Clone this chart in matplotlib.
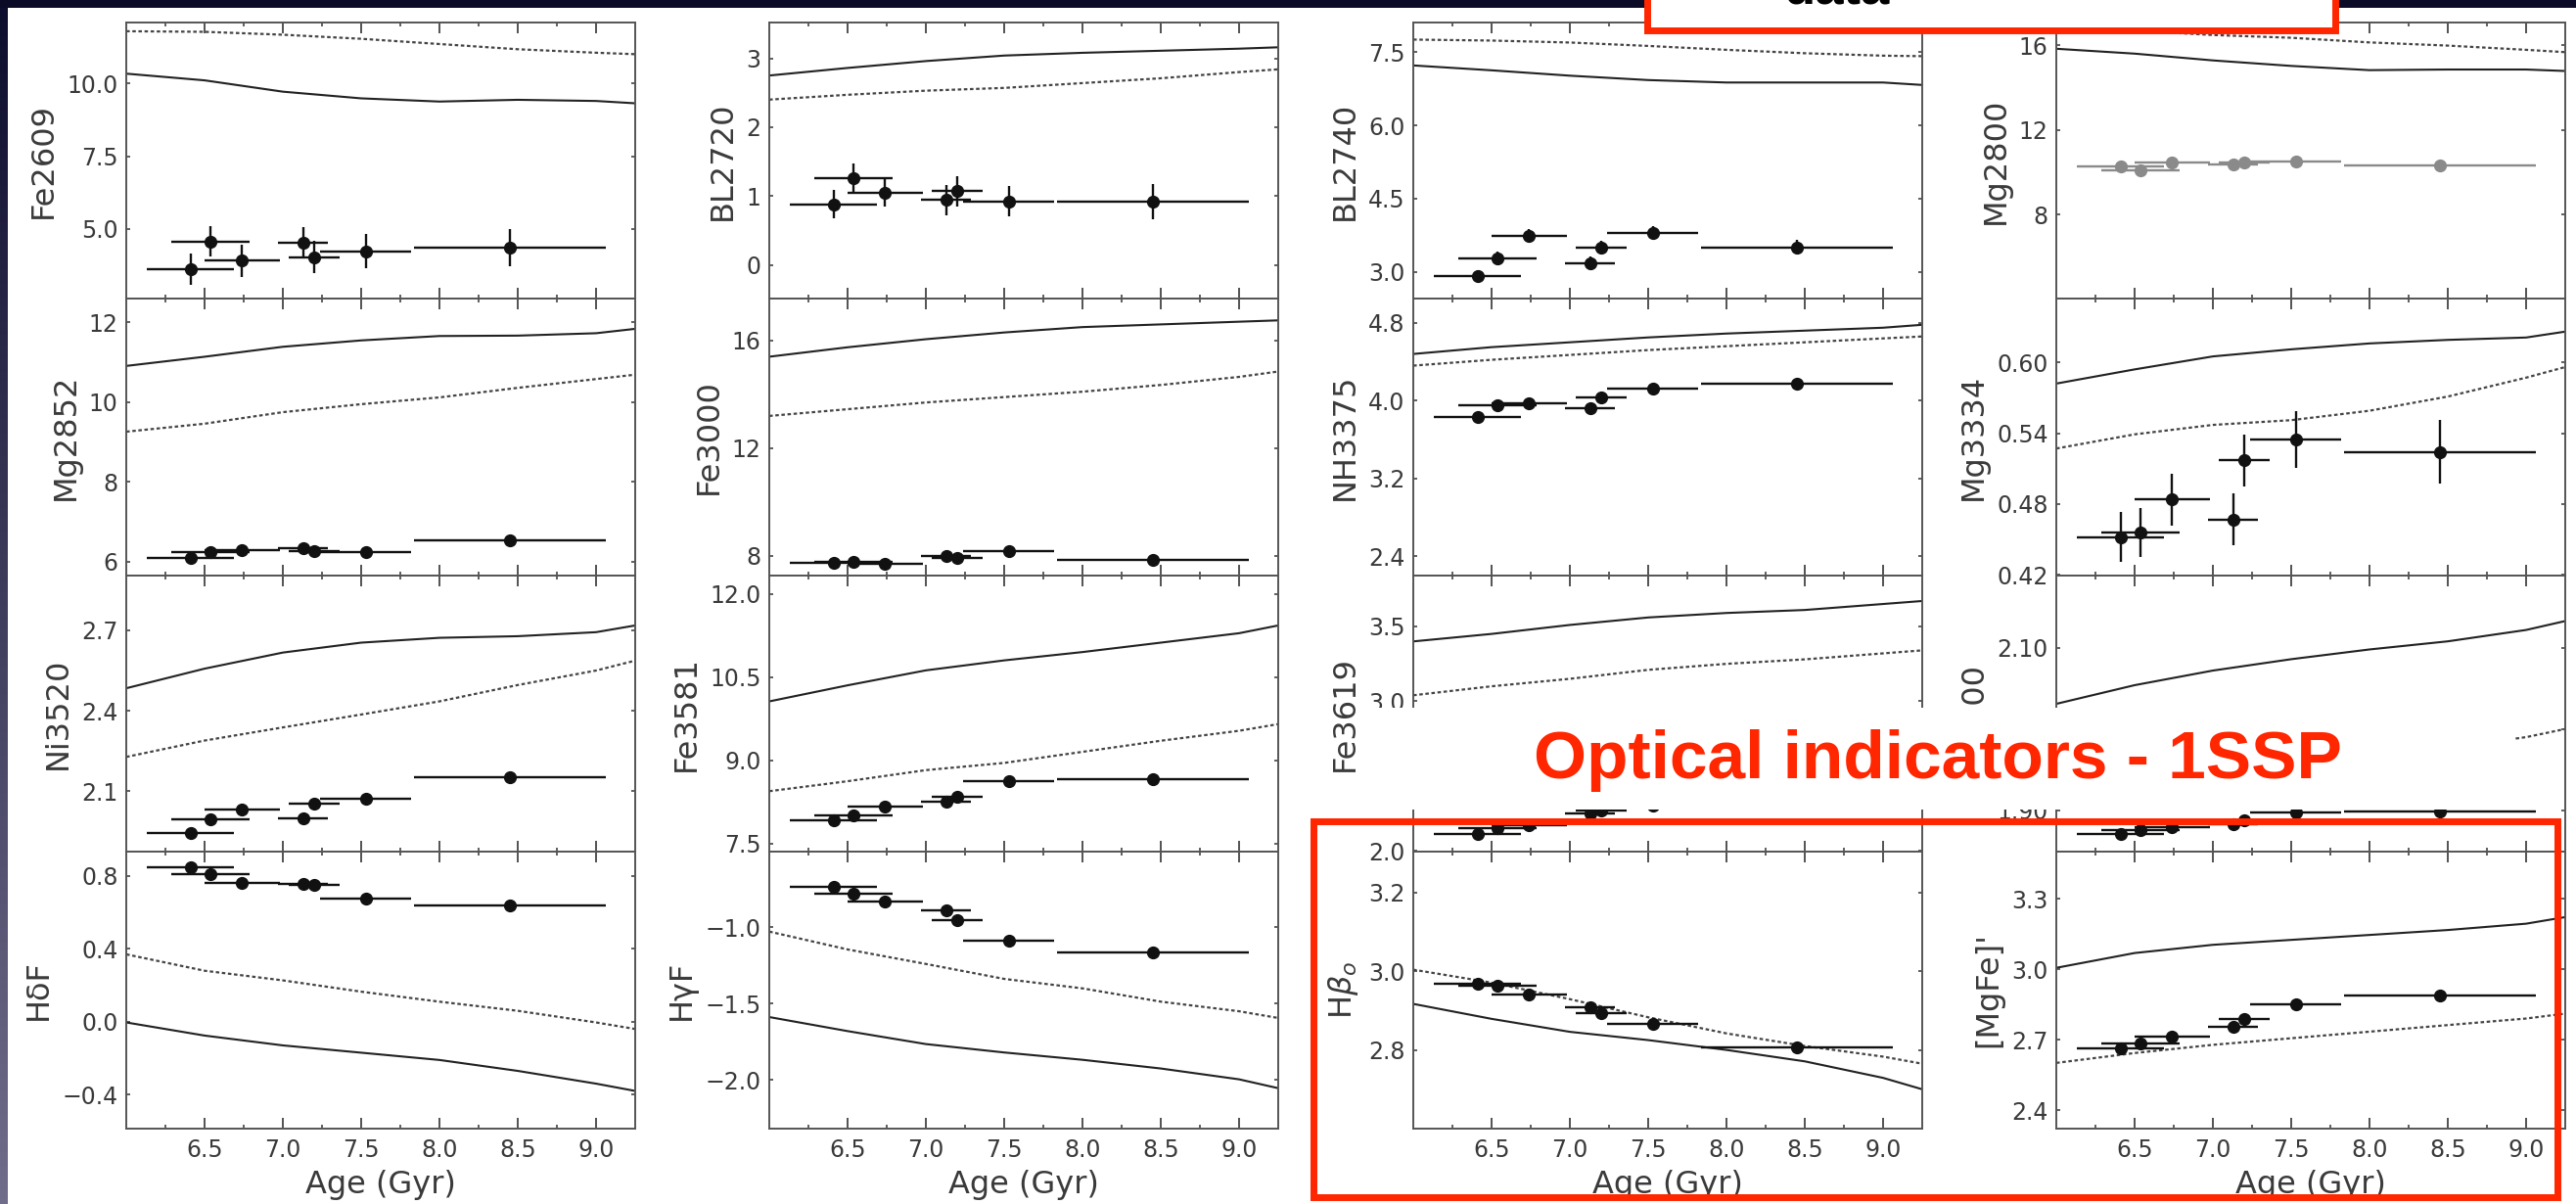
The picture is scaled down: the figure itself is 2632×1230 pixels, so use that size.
import numpy as np
import matplotlib.pyplot as plt
from matplotlib.patches import Rectangle
from matplotlib.ticker import FixedLocator, FuncFormatter

W, H = 2632, 1230

# ---------------- data ----------------
ages = [6.41, 6.54, 6.74, 7.13, 7.20, 7.53, 8.45]
age_err = [0.28, 0.25, 0.24, 0.16, 0.16, 0.29, 0.61]
model_age = [6.0, 6.5, 7.0, 7.5, 8.0, 8.5, 9.0, 9.25]
age_ticks = [6.5, 7.0, 7.5, 8.0, 8.5, 9.0]
age_minor = [6.25, 6.75, 7.25, 7.75, 8.25, 8.75]

fe2609 = [3.61, 4.57, 3.90, 4.52, 4.03, 4.23, 4.35]
fe2609_err = [0.55, 0.53, 0.55, 0.55, 0.55, 0.58, 0.65]
fe2609_solid = [10.34, 10.11, 9.72, 9.49, 9.38, 9.44, 9.40, 9.32]
fe2609_dot = [11.80, 11.78, 11.68, 11.54, 11.36, 11.18, 11.06, 11.01]

bl2720 = [0.88, 1.26, 1.05, 0.94, 1.07, 0.92, 0.92]
bl2720_err = [0.21, 0.21, 0.20, 0.22, 0.22, 0.22, 0.26]
bl2720_solid = [2.75, 2.86, 2.96, 3.04, 3.08, 3.11, 3.14, 3.16]
bl2720_dot = [2.40, 2.47, 2.53, 2.57, 2.64, 2.71, 2.80, 2.84]

bl2740 = [2.91, 3.28, 3.73, 3.18, 3.49, 3.79, 3.50]
bl2740_err = [0.13, 0.14, 0.14, 0.14, 0.14, 0.14, 0.15]
bl2740_solid = [7.23, 7.13, 7.02, 6.93, 6.88, 6.88, 6.88, 6.83]
bl2740_dot = [7.76, 7.74, 7.70, 7.63, 7.55, 7.48, 7.43, 7.42]

mg2800 = [10.27, 10.08, 10.47, 10.36, 10.44, 10.50, 10.34]
mg2800_err = [0.15] * 7
mg2800_solid = [15.83, 15.60, 15.28, 15.02, 14.82, 14.85, 14.85, 14.78]
mg2800_dot = [16.85, 16.68, 16.48, 16.35, 16.13, 15.98, 15.78, 15.67]

mg2852 = [6.08, 6.25, 6.29, 6.33, 6.27, 6.23, 6.54]
mg2852_err = [0.06] * 7
mg2852_solid = [10.91, 11.14, 11.39, 11.55, 11.66, 11.67, 11.73, 11.84]
mg2852_dot = [9.26, 9.46, 9.75, 9.95, 10.12, 10.36, 10.58, 10.69]

fe3000 = [7.75, 7.78, 7.72, 8.00, 7.92, 8.18, 7.85]
fe3000_err = [0.12] * 7
fe3000_solid = [15.40, 15.75, 16.05, 16.30, 16.50, 16.60, 16.70, 16.75]
fe3000_dot = [13.20, 13.45, 13.70, 13.90, 14.10, 14.35, 14.65, 14.85]

nh3375 = [3.83, 3.95, 3.97, 3.92, 4.03, 4.12, 4.17]
nh3375_err = [0.03] * 7
nh3375_solid = [4.48, 4.55, 4.60, 4.65, 4.69, 4.72, 4.75, 4.78]
nh3375_dot = [4.36, 4.42, 4.47, 4.52, 4.56, 4.60, 4.64, 4.66]

mg3334 = [0.452, 0.456, 0.484, 0.467, 0.517, 0.535, 0.524]
mg3334_err = [0.021, 0.021, 0.022, 0.022, 0.022, 0.024, 0.027]
mg3334_solid = [0.582, 0.594, 0.605, 0.611, 0.616, 0.619, 0.621, 0.626]
mg3334_dot = [0.527, 0.539, 0.547, 0.551, 0.559, 0.571, 0.587, 0.596]

ni3520 = [1.944, 1.996, 2.031, 1.999, 2.055, 2.072, 2.152]
ni3520_err = [0.01] * 7
ni3520_solid = [2.484, 2.557, 2.617, 2.654, 2.672, 2.678, 2.693, 2.718]
ni3520_dot = [2.228, 2.289, 2.338, 2.386, 2.435, 2.496, 2.550, 2.587]

fe3581 = [7.91, 8.01, 8.16, 8.25, 8.34, 8.62, 8.66]
fe3581_err = [0.05] * 7
fe3581_solid = [10.06, 10.35, 10.62, 10.80, 10.95, 11.12, 11.29, 11.43]
fe3581_dot = [8.44, 8.62, 8.82, 8.95, 9.15, 9.35, 9.53, 9.65]

fe3619 = [2.11, 2.15, 2.17, 2.25, 2.27, 2.30, 2.33]
fe3619_err = [0.04] * 7
fe3619_solid = [3.40, 3.45, 3.51, 3.56, 3.59, 3.61, 3.65, 3.67]
fe3619_dot = [3.04, 3.10, 3.15, 3.21, 3.25, 3.28, 3.32, 3.34]

d4000 = [1.871, 1.875, 1.879, 1.883, 1.888, 1.897, 1.898]
d4000_err = [0.005] * 7
d4000_solid = [2.031, 2.054, 2.072, 2.086, 2.098, 2.108, 2.122, 2.133]
d4000_dot = [1.920, 1.935, 1.945, 1.955, 1.965, 1.977, 1.990, 2.000]

hdf = [0.85, 0.81, 0.76, 0.755, 0.75, 0.678, 0.64]
hdf_err = [0.015] * 7
hdf_solid = [-0.004, -0.076, -0.13, -0.17, -0.21, -0.27, -0.34, -0.38]
hdf_dot = [0.37, 0.28, 0.227, 0.165, 0.11, 0.06, -0.004, -0.04]

hgf = [-0.733, -0.782, -0.831, -0.889, -0.953, -1.086, -1.167]
hgf_err = [0.02] * 7
hgf_solid = [-1.588, -1.68, -1.765, -1.82, -1.868, -1.925, -1.996, -2.054]
hgf_dot = [-1.028, -1.145, -1.24, -1.338, -1.40, -1.487, -1.55, -1.594]

hbo = [2.967, 2.962, 2.942, 2.908, 2.893, 2.866, 2.806]
hbo_err = [0.006] * 7
hbo_solid = [2.917, 2.879, 2.846, 2.825, 2.800, 2.771, 2.729, 2.700]
hbo_dot = [3.004, 2.971, 2.929, 2.883, 2.842, 2.810, 2.783, 2.765]

mgfe = [2.665, 2.686, 2.714, 2.756, 2.791, 2.851, 2.888]
mgfe_err = [0.008] * 7
mgfe_solid = [3.007, 3.070, 3.105, 3.126, 3.147, 3.168, 3.195, 3.223]
mgfe_dot = [2.602, 2.644, 2.679, 2.707, 2.735, 2.763, 2.791, 2.812]

panels = [
    ('Fe2609', fe2609, fe2609_err, fe2609_solid, fe2609_dot, (2.6, 12.1), [5.0, 7.5, 10.0], '%.1f'),
    ('BL2720', bl2720, bl2720_err, bl2720_solid, bl2720_dot, (-0.49, 3.52), [0, 1, 2, 3], '%d'),
    ('BL2740', bl2740, bl2740_err, bl2740_solid, bl2740_dot, (2.45, 8.11), [3.0, 4.5, 6.0, 7.5], '%.1f'),
    ('Mg2800', mg2800, mg2800_err, mg2800_solid, mg2800_dot, (4.03, 17.07), [8, 12, 16], '%d'),
    ('Mg2852', mg2852, mg2852_err, mg2852_solid, mg2852_dot, (5.65, 12.6), [6, 8, 10, 12], '%d'),
    ('Fe3000', fe3000, fe3000_err, fe3000_solid, fe3000_dot, (7.27, 17.56), [8, 12, 16], '%d'),
    ('NH3375', nh3375, nh3375_err, nh3375_solid, nh3375_dot, (2.2, 5.05), [2.4, 3.2, 4.0, 4.8], '%.1f'),
    ('Mg3334', mg3334, mg3334_err, mg3334_solid, mg3334_dot, (0.4194, 0.654), [0.42, 0.48, 0.54, 0.60], '%.2f'),
    ('Ni3520', ni3520, ni3520_err, ni3520_solid, ni3520_dot, (1.875, 2.904), [2.1, 2.4, 2.7], '%.1f'),
    ('Fe3581', fe3581, fe3581_err, fe3581_solid, fe3581_dot, (7.35, 12.33), [7.5, 9.0, 10.5, 12.0], '%.1f'),
    ('Fe3619', fe3619, fe3619_err, fe3619_solid, fe3619_dot, (1.995, 3.84), [2.0, 2.5, 3.0, 3.5], '%.1f'),
    ('D4000', d4000, d4000_err, d4000_solid, d4000_dot, (1.849, 2.189), [1.90, 2.00, 2.10], '%.2f'),
    ('H\u03b4F', hdf, hdf_err, hdf_solid, hdf_dot, (-0.587, 0.934), [-0.4, 0.0, 0.4, 0.8], '%.1f'),
    ('H\u03b3F', hgf, hgf_err, hgf_solid, hgf_dot, (-2.319, -0.504), [-2.0, -1.5, -1.0], '%.1f'),
    (r'H$\beta_o$', hbo, hbo_err, hbo_solid, hbo_dot, (2.60, 3.304), [2.8, 3.0, 3.2], '%.1f'),
    ("[MgFe]'", mgfe, mgfe_err, mgfe_solid, mgfe_dot, (2.322, 3.502), [2.4, 2.7, 3.0, 3.3], '%.1f'),
]

# tick values sitting under the caption band get no label
covered = {'Fe3619': [2.5], 'D4000': [2.00]}

# ---------------- layout (pixels) ----------------
col_left = [129, 786, 1444, 2101]
panel_w = 520
row_top = [23, 305, 588, 870]
row_bot = [305, 588, 870, 1153]

TEXT = '#3a3a3a'
RED = '#ff2600'

plt.rcParams['font.family'] = 'DejaVu Sans'
plt.rcParams['mathtext.fontset'] = 'dejavusans'


def px_rect(x0, y0, x1, y1):
    return [x0 / W, 1 - y1 / H, (x1 - x0) / W, (y1 - y0) / H]


def fmt_func(fmt, skip=()):
    def f(v, p):
        if any(abs(v - s) < 1e-9 for s in skip):
            return ''
        return (fmt % v).replace('-', '\u2212')
    return FuncFormatter(f)


fig = plt.figure(figsize=(W / 100, H / 100), dpi=100)
fig.patch.set_facecolor('#0b0b28')

# white slide area
fig.patches.append(Rectangle((8 / W, 0), 1 - 8 / W, 1 - 8 / H, transform=fig.transFigure,
                             facecolor='white', edgecolor='none', zorder=-10))

# shaded strip down the left edge
strip = fig.add_axes(px_rect(0, 8, 8, H), zorder=-9)
grad = np.linspace(0, 1, 256).reshape(-1, 1)
top_c = np.array([0x0d, 0x0d, 0x2e]) / 255
bot_c = np.array([0x70, 0x6d, 0x8a]) / 255
strip.imshow(top_c + grad[:, :, None] * (bot_c - top_c), aspect='auto', extent=(0, 1, 0, 1))
strip.axis('off')

for i, (label, vals, verr, solid, dot, ylim, yticks, fmt) in enumerate(panels):
    r, c = divmod(i, 4)
    ax = fig.add_axes(px_rect(col_left[c], row_top[r], col_left[c] + panel_w, row_bot[r]))

    ax.plot(model_age, solid, color='#222222', lw=1.5, zorder=2)
    ax.plot(model_age, dot, color='#444444', lw=1.6, ls=(0, (1.6, 1.2)), zorder=2)

    pt_color = '#8a8a8a' if label == 'Mg2800' else '#111111'
    ax.errorbar(ages, vals, xerr=age_err, yerr=verr, fmt='o', color=pt_color,
                ms=8.5, elinewidth=1.7, capsize=0, zorder=3)

    ax.set_xlim(6.0, 9.25)
    ax.set_ylim(*ylim)
    ax.xaxis.set_major_locator(FixedLocator(age_ticks))
    ax.xaxis.set_minor_locator(FixedLocator(age_minor))
    ax.yaxis.set_major_locator(FixedLocator(yticks))
    ax.yaxis.set_major_formatter(fmt_func(fmt, covered.get(label, ())))

    ax.tick_params(axis='x', which='major', direction='in', top=True, bottom=True,
                   length=8, width=1.3, color='#444444', labelsize=17, labelcolor=TEXT, pad=7)
    ax.tick_params(axis='x', which='minor', direction='in', top=True, bottom=True,
                   length=3, width=1.2, color='#444444')
    ax.tick_params(axis='y', which='major', direction='in', left=True, right=True,
                   length=3, width=1.2, color='#444444', labelsize=17, labelcolor=TEXT, pad=6)

    if r == 3:
        ax.set_xlabel('Age (Gyr)', fontsize=23, color=TEXT, labelpad=6)
    else:
        ax.tick_params(axis='x', labelbottom=False)
    ax.set_ylabel(label, fontsize=23, color=TEXT, labelpad=6)

    for sp in ax.spines.values():
        sp.set_color('#555555')
        sp.set_linewidth(1.4)

# caption band across the middle of the third row
fig.patches.append(Rectangle((1385 / W, 1 - 827 / H), (2570 - 1385) / W, (827 - 723) / H,
                             transform=fig.transFigure, facecolor='white', edgecolor='none', zorder=5))
fig.text(1980 / W, 1 - 777 / H, 'Optical indicators - 1SSP', color=RED, fontsize=50,
         fontweight='bold', family='Liberation Sans', ha='center', va='center', zorder=6)

# outline round the two lower-right panels
fig.patches.append(Rectangle((1342 / W, 1 - 1223 / H), (2613 - 1342) / W, (1223 - 839) / H,
                             transform=fig.transFigure, facecolor='none', edgecolor=RED,
                             lw=5, zorder=6))

# call-out box at the top edge
fig.patches.append(Rectangle((1683 / W, 1 - 31 / H), (2386 - 1683) / W, 60 / H,
                             transform=fig.transFigure, facecolor='white', edgecolor=RED,
                             lw=5, zorder=6))
fig.text(1877 / W, 1 - 4 / H, 'data', color='black', fontsize=38, fontweight='bold',
         family='Liberation Sans', ha='center', va='baseline', zorder=7)

fig.savefig('out.png', dpi=100, facecolor=fig.get_facecolor())
